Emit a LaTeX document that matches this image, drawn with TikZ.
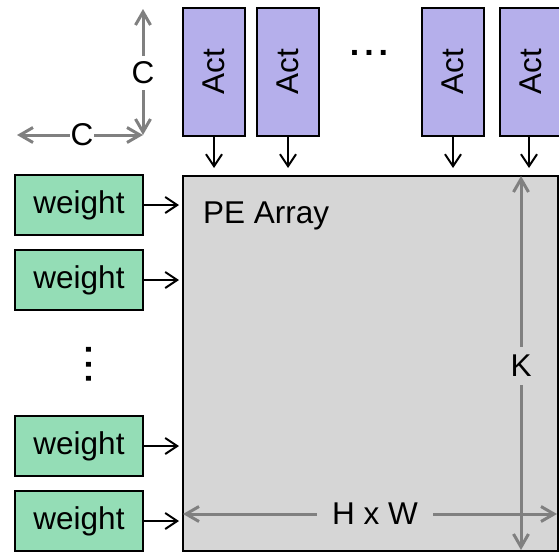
\documentclass[tikz,border=0pt]{standalone}
\usepackage{fontspec}
\setmainfont{Liberation Sans}
\usetikzlibrary{arrows.meta,calc}
\definecolor{actfill}{RGB}{181,175,235}
\definecolor{wfill}{RGB}{148,221,182}
\definecolor{pefill}{RGB}{214,214,214}
\definecolor{dimgray}{RGB}{128,128,128}
\begin{document}
\begin{tikzpicture}[x=1pt,y=-1pt,
  lbl/.style={font=\fontsize{31.5}{36}\selectfont},
  dots/.style={font=\bfseries\fontsize{34}{36}\selectfont,inner sep=0pt},
  actbox/.style={draw=black,line width=2pt,fill=actfill,minimum width=62pt,minimum height=128pt,inner sep=0pt},
  wbox/.style={draw=black,line width=2pt,fill=wfill,minimum width=128pt,minimum height=60pt,inner sep=0pt,lbl},
  feed/.style={line width=2pt,-{Straight Barb[length=12pt,width=16pt]}},
  dim/.style={draw=dimgray,line width=3pt,{Straight Barb[length=13pt,width=15pt]}-{Straight Barb[length=13pt,width=15pt]}}]
\useasboundingbox (0,0) rectangle (559,552);
% PE array
\node[draw=black,line width=2pt,fill=pefill,minimum width=375pt,minimum height=375pt,inner sep=0pt,anchor=north west] (pe) at (182,175) {};
\node[lbl,anchor=base west,inner sep=0pt] (pel) at (203,223) {PE Array};
% Act boxes
\node[actbox] (a1) at (214,72) {};
\node[actbox] (a2) at (288,72) {};
\node[actbox] (a3) at (453,72) {};
\node[actbox] (a4) at (531,72) {};
\foreach \n in {a1,a2,a3,a4}{\node[lbl,rotate=90,inner sep=0pt] (t\n) at (\n.center) {Act};}
\node[dots] (hd) at (369,52.7) {.\hspace{4.9pt}.\hspace{4.9pt}.};
% Act arrows
\coordinate (e1) at (214,168);
\coordinate (e2) at (288,168);
\coordinate (e3) at (453,168);
\coordinate (e4) at (529,168);
\coordinate (s4) at (529,136);
\draw[feed] (a1.south) -- (e1);
\draw[feed] (a2.south) -- (e2);
\draw[feed] (a3.south) -- (e3);
\draw[feed] (s4) -- (e4);
% weight boxes
\node[wbox] (w1) at (79,205) {weight};
\node[wbox] (w2) at (79,280) {weight};
\node[wbox] (w3) at (79,446) {weight};
\node[wbox] (w4) at (79,521) {weight};
\node[dots,rotate=90] (vd) at (88.7,364.3) {.\hspace{4.9pt}.\hspace{4.9pt}.};
\foreach \w in {w1,w2,w3,w4}{\draw[feed] (\w.east) -- ($(\w.east)+(35,0)$);}
% C dimension arrows
\coordinate (cc) at (143,135);
\coordinate (ct) at (143,9);
\coordinate (cl) at (17,135);
\draw[dim] (ct) -- (cc);
\draw[dim] (cl) -- (cc);
\node[lbl,fill=white,inner xsep=2pt,inner ysep=6pt] (cv) at (143,73) {C};
\node[lbl,fill=white,inner xsep=1pt,inner ysep=2pt] (ch) at (82,135) {C};
% K and HxW
\coordinate (kt) at (521,176);
\coordinate (kb) at (521,550);
\coordinate (hl) at (183,514);
\coordinate (hr) at (557,514);
\draw[dim] (kt) -- (kb);
\draw[dim] (hl) -- (hr);
\node[lbl,fill=pefill,inner xsep=3pt,inner ysep=8pt] (kl) at (521,366) {K};
\node[lbl,fill=pefill,inner xsep=15pt,inner ysep=4pt] (hw) at (375,514) {H x W};
\end{tikzpicture}
\end{document}
